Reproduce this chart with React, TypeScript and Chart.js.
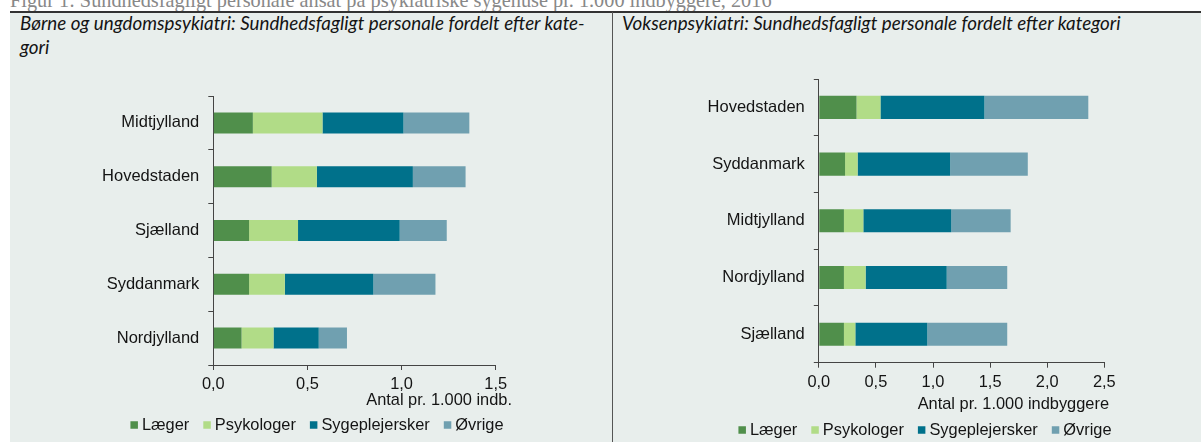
import React, { useEffect, useRef } from 'react';
import { Chart, registerables } from 'chart.js';

Chart.register(...registerables);

// ---------- data ----------
const seriesNames = ['Læger', 'Psykologer', 'Sygeplejersker', 'Øvrige'];
const seriesColors = ['#508f4b', '#b1dc87', '#00718b', '#70a0b0'];

const childRegions = ['Midtjylland', 'Hovedstaden', 'Sjælland', 'Syddanmark', 'Nordjylland'];
const childLaeger = [0.21, 0.31, 0.19, 0.19, 0.15];
const childPsykologer = [0.37, 0.24, 0.26, 0.19, 0.17];
const childSygeplejersker = [0.43, 0.51, 0.54, 0.47, 0.24];
const childOevrige = [0.35, 0.28, 0.25, 0.33, 0.15];
const childTickValues = [0, 0.5, 1.0, 1.5];
const childTickLabels = ['0,0', '0,5', '1,0', '1,5'];

const adultRegions = ['Hovedstaden', 'Syddanmark', 'Midtjylland', 'Nordjylland', 'Sjælland'];
const adultLaeger = [0.33, 0.23, 0.22, 0.22, 0.22];
const adultPsykologer = [0.21, 0.11, 0.17, 0.19, 0.1];
const adultSygeplejersker = [0.91, 0.81, 0.77, 0.71, 0.63];
const adultOevrige = [0.91, 0.68, 0.52, 0.53, 0.7];
const adultTickValues = [0, 0.5, 1.0, 1.5, 2.0, 2.5];
const adultTickLabels = ['0,0', '0,5', '1,0', '1,5', '2,0', '2,5'];

const captionText = 'Figur 1: Sundhedsfagligt personale ansat på psykiatriske sygehuse pr. 1.000 indbyggere, 2016';
const childTitle1 = 'Børne og ungdomspsykiatri: Sundhedsfagligt personale fordelt efter kate-';
const childTitle2 = 'gori';
const adultTitle = 'Voksenpsykiatri: Sundhedsfagligt personale fordelt efter kategori';
const childAxisTitle = 'Antal pr. 1.000 indb.';
const adultAxisTitle = 'Antal pr. 1.000 indbyggere';

// ---------- style ----------
const SANS = '"Liberation Sans", Arial, sans-serif';
const TEXT = '#141414';
const AXIS = '#444444';
const BG = '#e8eeec';

type PanelProps = {
  left: number;
  top: number;
  width: number;
  height: number;
  regions: string[];
  series: number[][];
  max: number;
  tickValues: number[];
  tickLabels: string[];
  yAxisWidth: number;
  padRight: number;
  padTop: number;
  padBottom: number;
  barPct: number;
  axisTitle: string;
  axisTitleX: number;
  axisTitleY: number;
  legendCX: number;
  legendY: number;
};

function makeTextPlugin(p: PanelProps) {
  return {
    id: 'panelText',
    afterDraw(chart: any) {
      const ctx = chart.ctx as CanvasRenderingContext2D;
      ctx.save();
      ctx.font = `16.4px ${SANS}`;
      ctx.fillStyle = TEXT;
      ctx.textBaseline = 'middle';
      ctx.textAlign = 'right';
      ctx.fillText(p.axisTitle, p.axisTitleX, p.axisTitleY);

      ctx.textAlign = 'left';
      const box = 7.5;
      const boxGap = 4;
      const itemGap = 14;
      const items = chart.data.datasets.map((ds: any) => ({ text: ds.label, color: ds.backgroundColor }));
      const widths = items.map((it: any) => box + boxGap + ctx.measureText(it.text).width);
      const total = widths.reduce((a: number, b: number) => a + b, 0) + itemGap * (items.length - 1);
      let x = p.legendCX - total / 2;
      items.forEach((it: any, i: number) => {
        ctx.fillStyle = it.color;
        ctx.fillRect(x, p.legendY - box / 2, box, box);
        ctx.fillStyle = TEXT;
        ctx.fillText(it.text, x + box + boxGap, p.legendY);
        x += widths[i] + itemGap;
      });
      ctx.restore();
    },
  };
}

function BarPanel(p: PanelProps) {
  const ref = useRef<HTMLCanvasElement | null>(null);
  useEffect(() => {
    if (!ref.current) return;
    const chart = new Chart(ref.current, {
      type: 'bar',
      data: {
        labels: p.regions,
        datasets: p.series.map((d, i) => ({
          label: seriesNames[i],
          data: d,
          backgroundColor: seriesColors[i],
          borderWidth: 0,
          barPercentage: p.barPct,
          categoryPercentage: 1,
        })),
      },
      options: {
        indexAxis: 'y',
        responsive: false,
        maintainAspectRatio: false,
        animation: false,
        layout: { padding: { left: 0, right: p.padRight, top: p.padTop, bottom: p.padBottom } },
        plugins: {
          legend: { display: false },
          tooltip: { enabled: false },
          title: { display: false },
        },
        scales: {
          x: {
            stacked: true,
            min: 0,
            max: p.max,
            afterBuildTicks: (s: any) => {
              s.ticks = p.tickValues.map((v) => ({ value: v }));
            },
            ticks: {
              callback: (_v: any, i: number) => p.tickLabels[i],
              font: { family: SANS, size: 16.4 },
              color: TEXT,
              padding: 5,
              maxRotation: 0,
              autoSkip: false,
            },
            grid: { display: true, drawOnChartArea: false, drawTicks: true, tickLength: 5, color: AXIS, lineWidth: 1 },
            border: { display: true, color: AXIS, width: 1 },
            afterFit: (s: any) => {
              s.height = 30;
            },
          },
          y: {
            stacked: true,
            ticks: { font: { family: SANS, size: 16.5 }, color: TEXT, padding: 9 },
            grid: { display: true, drawOnChartArea: false, drawTicks: true, tickLength: 5, color: AXIS, lineWidth: 1, offset: true },
            border: { display: true, color: AXIS, width: 1 },
            afterFit: (s: any) => {
              s.width = p.yAxisWidth;
            },
          },
        },
      } as any,
      plugins: [makeTextPlugin(p)],
    });
    return () => chart.destroy();
  }, []);
  return (
    <canvas
      ref={ref}
      width={p.width}
      height={p.height}
      style={{ position: 'absolute', left: p.left, top: p.top, width: p.width, height: p.height }}
    />
  );
}

const titleStyle: React.CSSProperties = {
  position: 'absolute',
  fontFamily: 'Lato, "Open Sans", sans-serif',
  fontStyle: 'italic',
  fontSize: 18.8,
  lineHeight: '24px',
  color: TEXT,
  whiteSpace: 'nowrap',
};

export default function App() {
  return (
    <div style={{ position: 'fixed', left: 0, top: 0, width: 1201, height: 442, background: '#ffffff', overflow: 'hidden' }}>
      <div
        style={{
          position: 'absolute',
          left: 10,
          top: -10,
          fontFamily: '"Liberation Serif", "Times New Roman", serif',
          fontSize: 20.3,
          lineHeight: 1,
          color: '#888888',
          whiteSpace: 'nowrap',
        }}
      >
        {captionText}
      </div>
      <div style={{ position: 'absolute', left: 10, top: 12, width: 1191, height: 430, background: BG }} />
      <div style={{ position: 'absolute', left: 10, top: 11, width: 1191, height: 2, background: '#333333' }} />
      <div style={{ position: 'absolute', left: 612, top: 12, width: 1, height: 430, background: '#555555' }} />
      <div style={{ ...titleStyle, left: 20, top: 11 }}>
        {childTitle1}
        <br />
        {childTitle2}
      </div>
      <div style={{ ...titleStyle, left: 622, top: 11 }}>{adultTitle}</div>
      <BarPanel
        left={10}
        top={12}
        width={602}
        height={430}
        regions={childRegions}
        series={[childLaeger, childPsykologer, childSygeplejersker, childOevrige]}
        max={1.5}
        tickValues={childTickValues}
        tickLabels={childTickLabels}
        yAxisWidth={203.3}
        padRight={116.3}
        padTop={84}
        padBottom={47}
        barPct={0.39}
        axisTitle={childAxisTitle}
        axisTitleX={502}
        axisTitleY={388}
        legendCX={307}
        legendY={413}
      />
      <BarPanel
        left={614}
        top={12}
        width={587}
        height={430}
        regions={adultRegions}
        series={[adultLaeger, adultPsykologer, adultSygeplejersker, adultOevrige]}
        max={2.5}
        tickValues={adultTickValues}
        tickLabels={adultTickLabels}
        yAxisWidth={204.8}
        padRight={96.7}
        padTop={67}
        padBottom={49.3}
        barPct={0.406}
        axisTitle={adultAxisTitle}
        axisTitleX={495}
        axisTitleY={392.5}
        legendCX={311}
        legendY={418}
      />
    </div>
  );
}
